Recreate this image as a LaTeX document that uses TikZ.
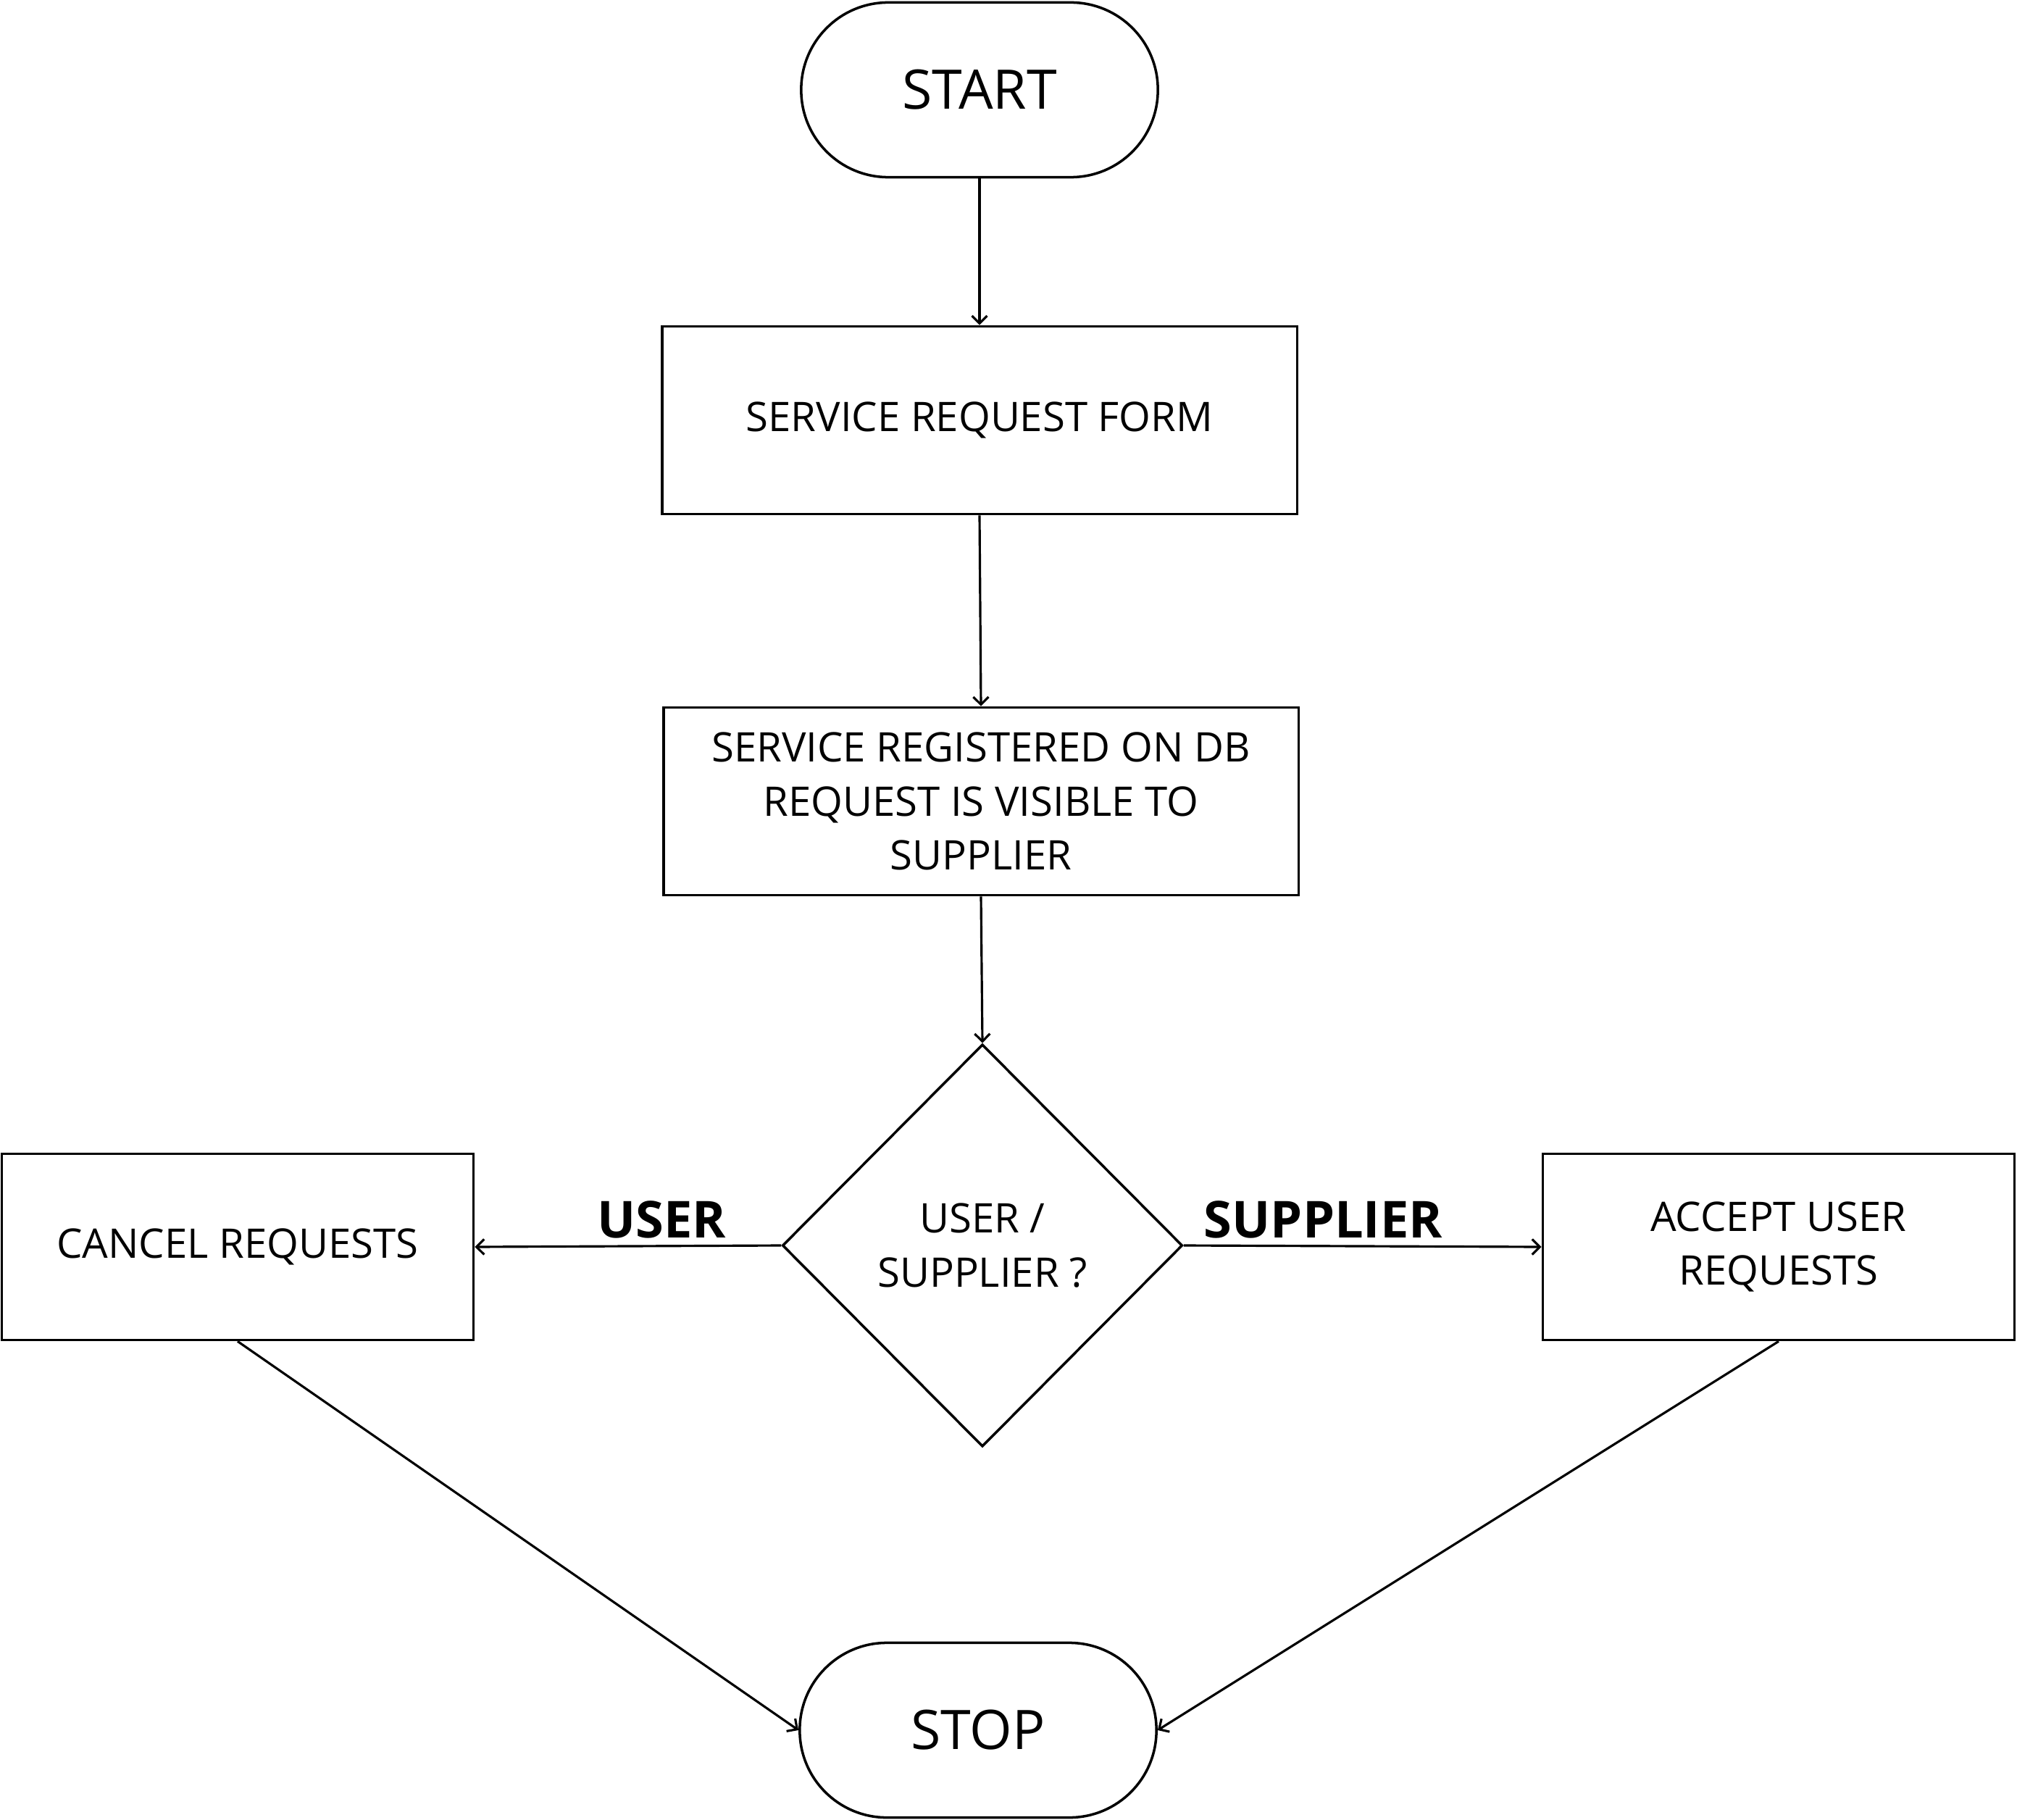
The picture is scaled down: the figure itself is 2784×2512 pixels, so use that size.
\documentclass[tikz,border=0pt]{standalone}
\usepackage{fontspec}
\setmainfont{Open Sans}
\usetikzlibrary{shapes.geometric, arrows.meta}

\tikzset{
  term/.style={draw, line width=1pt, rounded corners=1.2cm, minimum width=4.92cm, minimum height=2.41cm, font=\fontsize{21.4}{25}\selectfont},
  procbox/.style={draw, line width=1pt, minimum width=8.76cm, minimum height=2.59cm, align=center, font=\fontsize{16}{21.2}\selectfont},
  sidebox/.style={procbox, minimum width=6.51cm, minimum height=2.57cm},
  decide/.style={draw, diamond, line width=1pt, minimum width=5.52cm, minimum height=5.55cm, inner sep=0pt, align=center, font=\fontsize{16}{21.2}\selectfont},
  flow/.style={-{Straight Barb[length=3pt,width=6pt]}, line width=0.9pt},
  branch/.style={font=\bfseries\fontsize{20}{24}\selectfont, inner sep=0pt}
}

\begin{document}
\begin{tikzpicture}[x=0.01cm, y=-0.01cm]
        \useasboundingbox (0,0) rectangle (2784,2512);

        \node[term] (start) at (1352, 124) {START};
        \node[procbox] (form) at (1352, 580) {SERVICE REQUEST FORM};
        \node[procbox] (reg) at (1354, 1106) {SERVICE REGISTERED ON DB\\REQUEST IS VISIBLE TO\\SUPPLIER};
        \node[decide] (choice) at (1356, 1719) {USER /\\SUPPLIER ?};
        \node[sidebox] (cancel) at (328, 1721) {CANCEL REQUESTS};
        \node[sidebox] (accept) at (2455, 1721) {ACCEPT USER\\REQUESTS};
        \node[term] (stop) at (1350, 2388) {STOP};

        \draw[flow] (start.south) -- (form.north);
        \draw[flow] (form.south) -- (reg.north);
        \draw[flow] (reg.south) -- (choice.north);
        \draw[flow] (choice.west) -- node[branch, above=0.09cm, pos=0.39] (user) {USER} (cancel.east);
        \draw[flow] (choice.east) -- node[branch, above=0.09cm, pos=0.39] (supplier) {SUPPLIER} (accept.west);
        \draw[flow] (cancel.south) -- (stop.west);
        \draw[flow] (accept.south) -- (stop.east);
      \end{tikzpicture}
\end{document}
